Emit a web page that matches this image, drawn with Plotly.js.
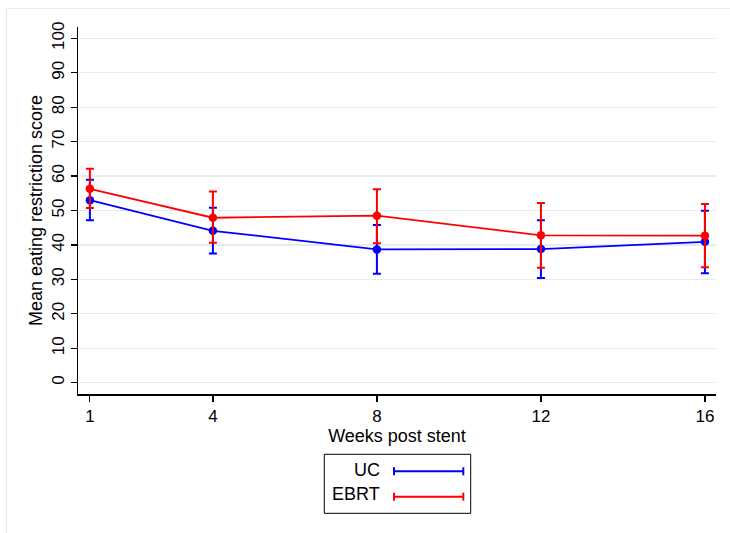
<!DOCTYPE html>
<html>
<head>
<meta charset="utf-8">
<script src="https://cdn.plot.ly/plotly-3.0.1.min.js"></script>
<style>html,body{margin:0;padding:0;background:#fff;}#chart{width:730px;height:533px;}</style>
</head>
<body>
<div id="chart"></div>
<script>
// Data
const weeks = [1, 4, 8, 12, 16];
const weekLabels = ["1", "4", "8", "12", "16"];
const ucMean  = [53.0, 44.1, 38.7, 38.8, 40.9];
const ucLow   = [47.2, 37.5, 31.6, 30.4, 31.8];
const ucHigh  = [58.9, 50.8, 45.8, 47.2, 49.9];
const ebrtMean = [56.3, 47.9, 48.5, 42.8, 42.7];
const ebrtLow  = [50.7, 40.6, 40.5, 33.4, 33.5];
const ebrtHigh = [62.1, 55.5, 56.2, 52.2, 51.9];
const yTicks = [0, 10, 20, 30, 40, 50, 60, 70, 80, 90, 100];
const seriesNames = ["UC", "EBRT"];

const FONT = "Liberation Sans, Arial, Helvetica, sans-serif";

function trace(name, mean, low, high, color) {
  return {
    type: "scatter", mode: "lines+markers", name: name,
    x: weeks, y: mean,
    line: {color: color, width: 1.8},
    marker: {color: color, size: 8.5},
    error_y: {
      type: "data", symmetric: false,
      array: high.map((h, i) => h - mean[i]),
      arrayminus: mean.map((m, i) => m - low[i]),
      color: color, thickness: 2, width: 4
    },
    showlegend: false
  };
}

const data = [
  trace(seriesNames[0], ucMean, ucLow, ucHigh, "#0000ff"),
  trace(seriesNames[1], ebrtMean, ebrtLow, ebrtHigh, "#ff0000")
];

// paper-coordinate helpers for the hand-drawn legend (Stata style)
const L = 78, R = 716, T = 27, B = 394;
const px = v => (v - L) / (R - L);
const py = v => (B - v) / (B - T);

const legendRows = [
  {name: seriesNames[0], color: "#0000ff", y: 471.3, ty: 469.5},
  {name: seriesNames[1], color: "#ff0000", y: 496.7, ty: 494.5}
];

const shapes = [
  // outer graph-region frame
  {type: "rect", xref: "paper", yref: "paper", x0: px(6.5), x1: px(745), y0: py(548), y1: py(8.5),
   line: {color: "#e3ecef", width: 1.2}, fillcolor: "rgba(0,0,0,0)", layer: "below"},
  // legend box
  {type: "rect", xref: "paper", yref: "paper", x0: px(324.3), x1: px(470.7), y0: py(513.3), y1: py(454.3),
   line: {color: "#000", width: 1}, fillcolor: "rgba(0,0,0,0)"}
];
const annotations = [];
legendRows.forEach(r => {
  shapes.push({type: "line", xref: "paper", yref: "paper", x0: px(394), x1: px(463.3), y0: py(r.y), y1: py(r.y),
               line: {color: r.color, width: 2}});
  [394, 463.3].forEach(cx => shapes.push({type: "line", xref: "paper", yref: "paper",
    x0: px(cx), x1: px(cx), y0: py(r.y - 4), y1: py(r.y + 4), line: {color: r.color, width: 2}}));
  annotations.push({xref: "paper", yref: "paper", x: px(382), y: py(r.ty), xanchor: "right", yanchor: "middle",
    text: r.name, showarrow: false, font: {family: FONT, size: 18, color: "#000"}});
});

const layout = {
  width: 730, height: 533,
  margin: {l: L, r: 730 - R, t: T, b: 533 - B},
  paper_bgcolor: "#fff", plot_bgcolor: "#fff",
  font: {family: FONT, color: "#000"},
  xaxis: {
    range: [0.71, 16.27], tickvals: weeks, ticktext: weekLabels,
    showgrid: false, zeroline: false,
    showline: true, linecolor: "#000", linewidth: 1.5,
    ticks: "outside", ticklen: 6, tickwidth: 1.2, tickcolor: "#000",
    tickfont: {family: FONT, size: 17, color: "#000"},
    title: {text: "Weeks post stent", font: {family: FONT, size: 18, color: "#000"}, standoff: 3}
  },
  yaxis: {
    range: [-3.3, 103.3], tickvals: yTicks,
    showgrid: true, gridcolor: "#e3ecef", gridwidth: 1.4, zeroline: false,
    showline: true, linecolor: "#000", linewidth: 1.5,
    ticks: "outside", ticklen: 6, tickwidth: 1.2, tickcolor: "#000",
    tickangle: -90,
    tickfont: {family: FONT, size: 17, color: "#000"},
    title: {text: "Mean eating restriction score", font: {family: FONT, size: 18, color: "#000"}, standoff: 1}
  },
  shapes: shapes,
  annotations: annotations,
  showlegend: false
};

Plotly.newPlot("chart", data, layout, {displayModeBar: false, staticPlot: true});
</script>
</body>
</html>
